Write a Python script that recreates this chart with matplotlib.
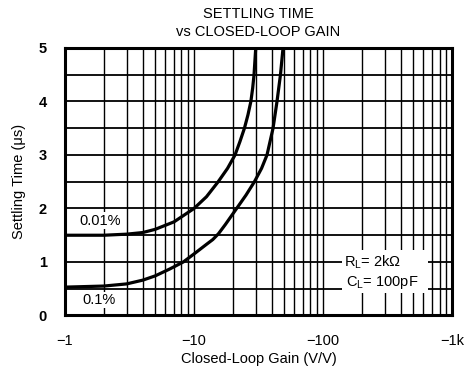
import numpy as np
import matplotlib
matplotlib.use("Agg")
from matplotlib import pyplot as plt
from matplotlib.patches import Rectangle

plt.rcParams['font.family'] = ['Liberation Sans', 'DejaVu Sans']

# 0.01% settling curve (gain magnitude, settling time in us)
gain_001 = [1, 2, 3, 4, 5, 7, 10, 12.5, 15.4, 18.2, 20.8, 22.7, 24.6, 26.2, 27.6, 28.5, 29.2, 30.1]
ts_001 = [1.50, 1.50, 1.52, 1.55, 1.61, 1.75, 2.0, 2.22, 2.5, 2.75, 3.0, 3.25, 3.5, 3.75, 4.0, 4.25, 4.5, 5.0]

# 0.1% settling curve
gain_01 = [1, 2, 3, 4, 5, 6.5, 8.26, 10, 12.5, 14.0, 15.5, 17.5, 21.4, 25.3, 29.4, 33.4, 36.8, 41.0, 44.0, 46.8, 49.0]
ts_01 = [0.53, 0.55, 0.59, 0.66, 0.74, 0.87, 1.0, 1.15, 1.33, 1.42, 1.53, 1.70, 2.0, 2.25, 2.5, 2.75, 3.0, 3.5, 4.0, 4.5, 5.0]

xticks = [1, 10, 100, 1000]
xticklabels = ['\u22121', '\u221210', '\u2212100', '\u22121k']
yticks = [0, 1, 2, 3, 4, 5]

fig = plt.figure(figsize=(4.75, 3.68), dpi=100)
ax = fig.add_axes([0.1368, 0.1427, 0.8148, 0.7269])

ax.set_xscale('log')
ax.set_xlim(1, 1000)
ax.set_ylim(0, 5)

# grid lines: every 1..9 per decade, every 0.5 us
for dec in [1, 10, 100]:
    for m in range(1, 10):
        ax.axvline(dec * m, color='black', lw=1.0, zorder=1)
for yv in np.arange(0.5, 5, 0.5):
    ax.axhline(yv, color='black', lw=1.3, zorder=1)

ax.plot(gain_001, ts_001, color='black', lw=2.3, zorder=3)
ax.plot(gain_01, ts_01, color='black', lw=2.3, zorder=3)

ax.set_xticks(xticks)
ax.set_xticklabels(xticklabels, fontsize=10.5)
ax.set_xticks([], minor=True)
ax.set_yticks(yticks)
ax.set_yticklabels([str(v) for v in yticks], fontsize=10.5, fontweight='bold')
ax.tick_params(axis='both', length=0)
ax.tick_params(axis='x', pad=13)
ax.tick_params(axis='y', pad=13)

for s in ax.spines.values():
    s.set_linewidth(2.2)

ax.text(1.87, 1.77, '0.01%', fontsize=10.5, ha='center', va='center', zorder=4,
        bbox=dict(facecolor='white', edgecolor='none', pad=1.0))
ax.text(1.83, 0.29, '0.1%', fontsize=10.5, ha='center', va='center', zorder=4,
        bbox=dict(facecolor='white', edgecolor='none', pad=1.0))

ax.add_patch(Rectangle((0.716, 0.084), 0.222, 0.161, transform=ax.transAxes,
                       facecolor='white', edgecolor='none', zorder=2))
ax.text(0.721, 0.20, 'R$_\\mathregular{L}$= 2k\u03a9', fontsize=10.5, ha='left', va='center',
        transform=ax.transAxes, zorder=4)
ax.text(0.726, 0.125, 'C$_\\mathregular{L}$= 100pF', fontsize=10.5, ha='left', va='center',
        transform=ax.transAxes, zorder=4)

ax.set_xlabel('Closed-Loop Gain (V/V)', fontsize=10.5, labelpad=3)
ax.set_ylabel('Settling Time (\u03bcs)', fontsize=10.5, labelpad=9)
fig.text(0.543, 0.962, 'SETTLING TIME', fontsize=10.5, ha='center', va='center')
fig.text(0.543, 0.913, 'vs CLOSED-LOOP GAIN', fontsize=10.5, ha='center', va='center')

fig.savefig('out.png', dpi=100)
